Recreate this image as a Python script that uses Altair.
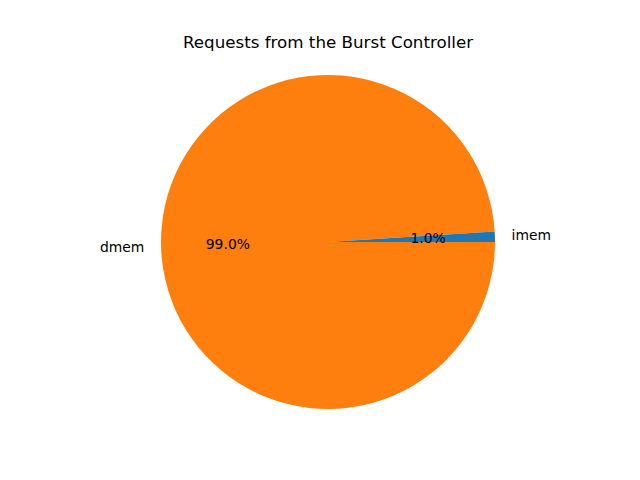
import math
import altair as alt
import pandas as pd

labels = ["dmem", "imem"]
values = [99.0, 1.0]
order = [0, 1]
colors = ["#ff7f0e", "#1f77b4"]

df = pd.DataFrame({"label": labels, "value": values, "order": order})

CX, CY, R = 328, 182, 167
FONT = "DejaVu Sans"

tscale = alt.Scale(domain=[0, 100], range=[math.pi / 2, math.pi / 2 + 2 * math.pi])
cx = alt.value(CX)
cy = alt.value(CY)

base = alt.Chart(df).transform_stack(
    stack="value", as_=["start", "end"], groupby=[], sort=[alt.SortField("order", "ascending")]
).transform_calculate(
    mid="(datum.start + datum.end) / 2",
    pct="format(datum.value, '.1f') + '%'",
)

arc = base.mark_arc(radius=R).encode(
    theta=alt.Theta("start:Q", scale=tscale, stack=None),
    theta2="end:Q",
    x=cx, y=cy,
    color=alt.Color("label:N", scale=alt.Scale(domain=labels, range=colors), legend=None),
)

mid_theta = alt.Theta("mid:Q", scale=tscale, stack=None)

pct = base.mark_text(radius=R * 0.6, font=FONT, fontSize=13.9, color="black").encode(
    theta=mid_theta, x=cx, y=cy, text="pct:N"
)

lab_right = base.transform_filter("datum.label == 'imem'").mark_text(
    radius=R * 1.1, align="left", baseline="middle", font=FONT, fontSize=13.9, color="black"
).encode(theta=mid_theta, x=cx, y=cy, text="label:N")

lab_left = base.transform_filter("datum.label == 'dmem'").mark_text(
    radius=R * 1.1, align="right", baseline="middle", font=FONT, fontSize=13.9, color="black"
).encode(theta=mid_theta, x=cx, y=cy, text="label:N")

chart = alt.layer(arc, pct, lab_right, lab_left).properties(
    width=640, height=420,
    autosize=alt.AutoSizeParams(type="none"),
    padding={"left": 0, "top": 60, "right": 0, "bottom": 0},
    title=alt.TitleParams("Requests from the Burst Controller", font=FONT, fontSize=16.7,
                          fontWeight="normal", color="black", anchor="middle", dx=8, offset=8),
).configure_view(stroke=None)

chart.save("out.html", embed_options={"renderer": "svg", "actions": False})
